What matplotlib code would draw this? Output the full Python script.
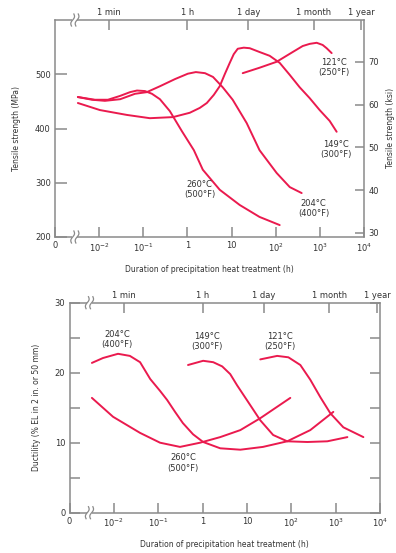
import numpy as np
import matplotlib
matplotlib.use("Agg")
import matplotlib.pyplot as plt
import matplotlib.transforms as mtransforms

# ---------------- data ----------------
# Tensile strength (MPa) vs. duration of precipitation heat treatment (h)
ts_204_t = [0.0033, 0.0069, 0.0135, 0.030, 0.065, 0.12, 0.24, 0.52, 1.02, 1.55, 2.5, 3.8, 6.3, 10.6, 22, 43, 105, 208, 387]
ts_204_v = [458, 453, 451, 454, 464, 467, 478, 491, 501, 504, 502, 495, 476, 453, 410, 360, 318, 292, 281]

ts_260_t = [0.0033, 0.0080, 0.0158, 0.0296, 0.050, 0.072, 0.109, 0.157, 0.238, 0.40, 0.75, 1.40, 2.23, 5.4, 15.3, 43, 123]
ts_260_v = [458, 453, 453, 460, 467, 470, 469, 464, 454, 432, 395, 360, 324, 287, 259, 237, 222]

ts_149_t = [0.0033, 0.0104, 0.0426, 0.141, 0.47, 1.13, 1.91, 2.75, 3.96, 5.4, 7.0, 9.1, 11.2, 13.8, 18.9, 25.8, 43, 73, 123, 207, 349, 588, 989, 1667, 2400]
ts_149_v = [447, 434, 425, 419, 421, 429, 438, 447, 462, 478, 500, 521, 537, 547, 549, 548, 541, 534, 521, 499, 476, 456, 434, 414, 394]

ts_121_t = [17.9, 43, 105, 243, 408, 588, 847, 1157, 1425, 1850]
ts_121_v = [502, 512, 523, 541, 552, 556, 558, 554, 548, 539]

# Ductility (%EL) vs. duration (h)
du_204_t = [0.0032, 0.0057, 0.0124, 0.023, 0.039, 0.066, 0.110, 0.159, 0.24, 0.36, 0.61, 1.03, 2.5, 7.1, 23, 81, 268, 887]
du_204_v = [21.4, 22.1, 22.7, 22.4, 21.5, 19.1, 17.4, 16.1, 14.4, 12.8, 11.2, 10.1, 9.2, 9.0, 9.4, 10.2, 11.8, 14.4]

du_260_t = [0.0032, 0.0096, 0.039, 0.110, 0.31, 0.88, 2.5, 7.1, 20, 95]
du_260_v = [16.4, 13.7, 11.4, 10.0, 9.4, 10.0, 10.8, 11.8, 13.5, 16.4]

du_149_t = [0.47, 1.03, 1.74, 2.77, 4.2, 6.0, 10.2, 20, 39, 81, 230, 650, 1840]
du_149_v = [21.1, 21.7, 21.5, 20.9, 19.8, 18.2, 16.0, 13.2, 11.1, 10.2, 10.1, 10.2, 10.8]

du_121_t = [20, 48, 86, 160, 268, 452, 760, 1490, 4220]
du_121_v = [21.9, 22.4, 22.2, 21.1, 19.0, 16.5, 14.2, 12.2, 10.8]

# axis ticks
x_ticks = [1e-3, 1e-2, 1e-1, 1, 10, 1e2, 1e3, 1e4]
x_ticklabels = ["0", r"$10^{-2}$", r"$10^{-1}$", "1", "10", r"$10^{2}$", r"$10^{3}$", r"$10^{4}$"]
time_ticks = [1 / 60, 1, 24, 720, 8760]
time_labels = ["1 min", "1 h", "1 day", "1 month", "1 year"]
ts_ticks = [200, 300, 400, 500]
ksi_ticks = [30, 40, 50, 60, 70]
du_ticks = [0, 5, 10, 15, 20, 25, 30]
du_ticklabels = ["0", "", "10", "", "20", "", "30"]

# curve labels (text, x, y)
ts_labels = [("121°C\n(250°F)", 2040, 513), ("149°C\n(300°F)", 2300, 362),
             ("260°C\n(500°F)", 1.9, 287), ("204°C\n(400°F)", 725, 252)]
du_labels = [("204°C\n(400°F)", 0.0117, 24.8), ("149°C\n(300°F)", 1.27, 24.4),
             ("121°C\n(250°F)", 56, 24.4), ("260°C\n(500°F)", 0.36, 7.1)]

# ---------------- style ----------------
plt.rcParams["font.family"] = ["DejaVu Sans"]
plt.rcParams["mathtext.default"] = "regular"
RED = "#ea1a4e"
GRAY = "#8a8a8a"
TXT = "#333333"
LW = 1.4
FS = 6
XMIN, XMAX = 1e-3, 1e4
BREAK_X = 10 ** -2.55

fig = plt.figure(figsize=(3.96, 5.53), dpi=100)


def style_axes(ax):
    for s in ax.spines.values():
        s.set_color(GRAY)
        s.set_linewidth(1.1)
    ax.tick_params(colors=GRAY, labelcolor=TXT, labelsize=FS, width=1.1)


def hide_spines(ax):
    for s in ax.spines.values():
        s.set_visible(False)


def break_mark(ax, yax):
    trans = mtransforms.blended_transform_factory(ax.transData, ax.transAxes)
    off = fig.dpi_scale_trans + mtransforms.ScaledTranslation(BREAK_X, yax, trans)
    gap = plt.Rectangle((-0.025, -0.02), 0.05, 0.04, transform=off,
                        facecolor="white", edgecolor="none", zorder=10, clip_on=False)
    ax.add_patch(gap)
    tt = np.linspace(-1, 1, 30)
    for dx in (-0.022, 0.022):
        xs = dx + 0.012 * np.sin(np.pi * tt) + 0.012 * tt
        ys = 0.06 * tt
        ax.plot(xs, ys, transform=off, color=GRAY, lw=0.9, zorder=11, clip_on=False)


def setup_time_axes(ax, tick_len):
    ax.set_xscale("log")
    ax.set_xlim(XMIN, XMAX)
    ax.set_xticks(x_ticks)
    ax.set_xticklabels(x_ticklabels)
    ax.xaxis.set_minor_locator(matplotlib.ticker.NullLocator())
    ax.tick_params(axis="x", direction="in", length=tick_len, pad=3)
    axt = ax.twiny()
    axt.set_xscale("log")
    axt.set_xlim(XMIN, XMAX)
    axt.set_xticks(time_ticks)
    axt.set_xticklabels(time_labels)
    axt.xaxis.set_minor_locator(matplotlib.ticker.NullLocator())
    style_axes(axt)
    hide_spines(axt)
    axt.tick_params(axis="x", direction="in", length=tick_len, pad=2)
    return axt


# ---------------- top chart: tensile strength ----------------
ax1 = fig.add_axes([55 / 396, 1 - 237 / 553, 309 / 396, 217 / 553])
style_axes(ax1)
ax1.set_ylim(200, 600)
ax1.set_yticks(ts_ticks)
ax1.tick_params(axis="y", direction="in", length=8.5, pad=3)
setup_time_axes(ax1, 7)

axk = ax1.twinx()
style_axes(axk)
hide_spines(axk)
axk.set_ylim(28.99, 79.84)
axk.set_yticks(ksi_ticks)
axk.tick_params(axis="y", direction="in", length=6.5, pad=3)

for t, v in [(ts_204_t, ts_204_v), (ts_260_t, ts_260_v), (ts_149_t, ts_149_v), (ts_121_t, ts_121_v)]:
    ax1.plot(t, v, color=RED, lw=LW, solid_capstyle="round", solid_joinstyle="round")
for txt, x, y in ts_labels:
    ax1.text(x, y, txt, ha="center", va="center", fontsize=FS, color=TXT, linespacing=1.15)
ax1.set_ylabel("Tensile strength (MPa)", fontsize=5.5, color=TXT, labelpad=10)
ax1.set_xlabel("Duration of precipitation heat treatment (h)", fontsize=5.5, color=TXT, labelpad=8)
fig.text(390.5 / 396, 1 - 128 / 553, "Tensile strength (ksi)", rotation=90,
         ha="center", va="center", fontsize=5.5, color=TXT)
break_mark(ax1, 1.0)
break_mark(ax1, 0.0)

# ---------------- bottom chart: ductility ----------------
ax2 = fig.add_axes([69.5 / 396, 1 - 512.7 / 553, 310.5 / 396, 210 / 553])
style_axes(ax2)
ax2.set_ylim(0, 30)
ax2.set_yticks(du_ticks)
ax2.set_yticklabels(du_ticklabels)
ax2.tick_params(axis="y", direction="in", length=7.5, pad=3, right=True)
setup_time_axes(ax2, 7)
for t, v in [(du_204_t, du_204_v), (du_260_t, du_260_v), (du_149_t, du_149_v), (du_121_t, du_121_v)]:
    ax2.plot(t, v, color=RED, lw=LW, solid_capstyle="round", solid_joinstyle="round")
for txt, x, y in du_labels:
    ax2.text(x, y, txt, ha="center", va="center", fontsize=FS, color=TXT, linespacing=1.15)
ax2.set_ylabel("Ductility (% EL in 2 in. or 50 mm)", fontsize=5.5, color=TXT, labelpad=10)
ax2.set_xlabel("Duration of precipitation heat treatment (h)", fontsize=5.5, color=TXT, labelpad=8)
break_mark(ax2, 1.0)
break_mark(ax2, 0.0)

fig.savefig("out.png", dpi=100, facecolor="white")
